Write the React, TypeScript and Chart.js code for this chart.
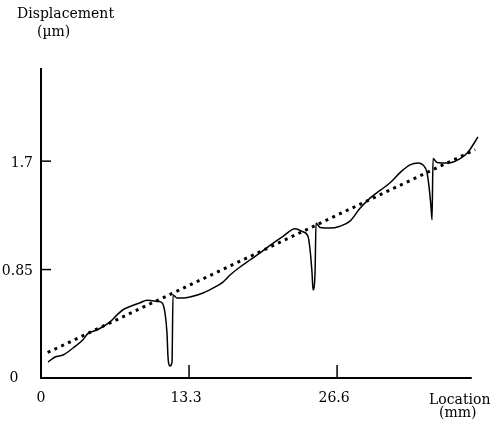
import React, { useEffect, useRef } from "react";
import { Chart, registerables } from "chart.js";

Chart.register(...registerables);

// Measured displacement profile (Location mm, Displacement µm)
const locationMm: number[] = [
  0.63, 1.26, 1.98, 2.88, 3.77, 4.22, 5.03, 6.2, 6.83, 7.37, 8.0, 8.9, 9.52,
  10.51, 10.87, 11.14, 11.32, 11.41, 11.59, 11.77, 11.86, 12.22, 12.76, 13.39,
  14.56, 15.45, 16.35, 16.98, 17.88, 18.77, 19.68, 20.58, 21.74, 22.82, 23.54,
  23.99, 24.17, 24.35, 24.44, 24.62, 24.71, 25.07, 25.97, 26.86, 27.76, 28.66,
  29.56, 30.46, 31.36, 32.26, 33.15, 33.87, 34.32, 34.68, 34.86, 35.04, 35.13,
  35.22, 35.58, 36.57, 37.65, 38.36, 39.26,
];
const displacementUm: number[] = [
  0.125, 0.165, 0.18, 0.235, 0.3, 0.35, 0.376, 0.44, 0.495, 0.535, 0.56, 0.59,
  0.61, 0.6, 0.59, 0.51, 0.35, 0.165, 0.094, 0.125, 0.65, 0.627, 0.627, 0.635,
  0.666, 0.705, 0.752, 0.807, 0.87, 0.925, 0.98, 1.04, 1.11, 1.17, 1.146, 1.11,
  1.007, 0.823, 0.69, 0.823, 1.215, 1.18, 1.175, 1.19, 1.23, 1.33, 1.41, 1.47,
  1.53, 1.61, 1.67, 1.685, 1.67, 1.61, 1.5, 1.34, 1.24, 1.72, 1.69, 1.685,
  1.72, 1.77, 1.89,
];

// Linear trend (dotted)
const trendLocation: number[] = [0.6, 39.0];
const trendValue: number[] = [0.2, 1.79];

// Axes
const xTicks: number[] = [0, 13.3, 26.6];
const xTickLabels: string[] = ["0", "13.3", "26.6"];
const yTicks: number[] = [0, 0.85, 1.7];
const yTickLabels: string[] = ["0", "0.85", "1.7"];
const xMin = 0;
const xMax = 39.26;
const yMin = 0;
const yMax = 2.43;
const xAxisEnd = 38.7;

const FONT = "14px 'DejaVu Serif'";

const axesPlugin = {
  id: "customAxes",
  afterDatasetsDraw(chart: any) {
    const ctx = chart.ctx;
    const xs = chart.scales.x;
    const ys = chart.scales.y;
    const x0 = xs.getPixelForValue(0);
    const y0 = ys.getPixelForValue(0);
    ctx.save();
    ctx.strokeStyle = "#000";
    ctx.fillStyle = "#000";
    ctx.lineWidth = 2;
    ctx.beginPath();
    ctx.moveTo(x0, chart.chartArea.top);
    ctx.lineTo(x0, y0);
    ctx.lineTo(xs.getPixelForValue(xAxisEnd), y0);
    ctx.stroke();
    ctx.lineWidth = 1.5;
    yTicks.forEach((v) => {
      if (v === 0) return;
      const py = ys.getPixelForValue(v);
      ctx.beginPath();
      ctx.moveTo(x0, py);
      ctx.lineTo(x0 + 10, py);
      ctx.stroke();
    });
    xTicks.forEach((v) => {
      if (v === 0) return;
      const px = xs.getPixelForValue(v);
      ctx.beginPath();
      ctx.moveTo(px, y0);
      ctx.lineTo(px, y0 - 13);
      ctx.stroke();
    });
    ctx.font = FONT;
    ctx.textBaseline = "middle";
    yTicks.forEach((v, i) => {
      const py = ys.getPixelForValue(v);
      if (v === 0) {
        ctx.textAlign = "center";
        ctx.fillText(yTickLabels[i], 14, py);
      } else {
        ctx.textAlign = "right";
        ctx.fillText(yTickLabels[i], x0 - 8, py + 2);
      }
    });
    ctx.textAlign = "center";
    xTicks.forEach((v, i) => {
      const px = xs.getPixelForValue(v);
      ctx.fillText(xTickLabels[i], px - (v === 0 ? 0 : 3), y0 + 20);
    });
    ctx.textAlign = "left";
    ctx.fillText("Displacement", 17, 14);
    ctx.fillText("(\u00b5m)", 37, 32);
    ctx.fillText("Location", 429, y0 + 22);
    ctx.fillText("(mm)", 439, y0 + 35);
    ctx.restore();
  },
};

export default function App() {
  const ref = useRef<HTMLCanvasElement | null>(null);
  useEffect(() => {
    if (!ref.current) return;
    const chart = new Chart(ref.current, {
      type: "line",
      data: {
        datasets: [
          {
            data: locationMm.map((x, i) => ({ x, y: displacementUm[i] })),
            borderColor: "#000",
            borderWidth: 1.5,
            pointRadius: 0,
            tension: 0,
            cubicInterpolationMode: "monotone",
            clip: false as any,
            fill: false,
          },
          {
            data: trendLocation.map((x, i) => ({ x, y: trendValue[i] })),
            borderColor: "#000",
            borderWidth: 3,
            borderDash: [3, 4.5],
            borderCapStyle: "butt",
            pointRadius: 0,
            clip: false as any,
            fill: false,
          },
        ],
      },
      options: {
        animation: false,
        responsive: false,
        layout: { padding: { left: 41, right: 25, top: 68, bottom: 50 } },
        plugins: { legend: { display: false }, tooltip: { enabled: false }, title: { display: false } },
        scales: {
          x: { type: "linear", min: xMin, max: xMax, display: false },
          y: { type: "linear", min: yMin, max: yMax, display: false },
        },
      },
      plugins: [axesPlugin],
    });
    return () => chart.destroy();
  }, []);
  return (
    <div style={{ position: "fixed", left: 0, top: 0, width: 503, height: 428, background: "#fff" }}>
      <canvas ref={ref} width={503} height={428} />
    </div>
  );
}
